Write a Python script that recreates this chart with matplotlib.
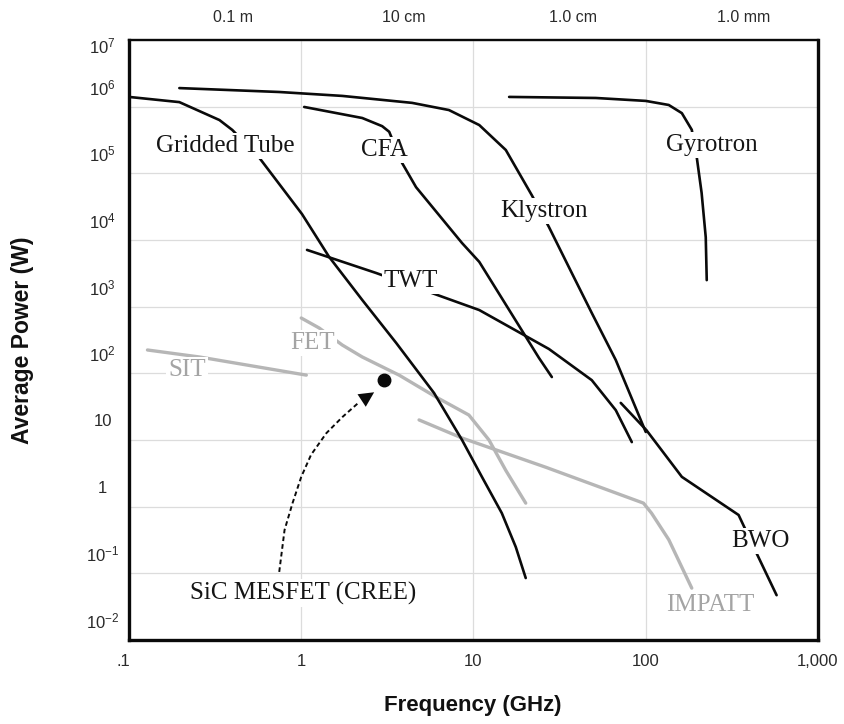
import matplotlib
matplotlib.use("Agg")
import matplotlib.pyplot as plt
import matplotlib.transforms as mtransforms

plt.rcParams['font.family'] = ['Liberation Sans', 'DejaVu Sans']
plt.rcParams['mathtext.fontset'] = 'custom'
plt.rcParams['mathtext.rm'] = 'Liberation Sans'
plt.rcParams['mathtext.it'] = 'Liberation Sans:italic'
plt.rcParams['mathtext.bf'] = 'Liberation Sans:bold'

# ---- device envelopes: frequency (GHz) vs average power (W) ----
gridded_f = [0.1, 0.196, 0.335, 0.398, 0.572, 1.01, 1.45, 2.26, 3.56, 5.9, 8.58, 11.2, 14.6, 17.6, 20.1]
gridded_p = [1.4e6, 1.17e6, 6.3e5, 4.47e5, 1.7e5, 2.45e4, 5.6e3, 1.26e3, 285, 50.7, 10, 2.79, 0.80, 0.248, 0.085]

klystron_f = [0.196, 0.745, 1.73, 4.4, 7.2, 10.8, 15.4, 21.8, 27.4, 37.2, 48.6, 67, 100]
klystron_p = [1.9e6, 1.66e6, 1.45e6, 1.14e6, 8.9e5, 5.3e5, 2.24e5, 4.7e4, 1.57e4, 3.2e3, 804, 158, 13.2]

cfa_f = [1.04, 2.26, 2.95, 3.24, 3.85, 4.64, 8.58, 10.8, 24, 28.5]
cfa_p = [9.9e5, 6.76e5, 5.1e5, 4.2e5, 1.43e5, 6.2e4, 9.0e3, 4.7e3, 170, 88]

twt_f = [1.08, 2.72, 5.74, 10.8, 27.4, 48.6, 67, 83]
twt_p = [7.1e3, 3.2e3, 1.6e3, 890, 232, 79, 28, 9.3]

gyrotron_f = [16.1, 51.3, 100, 136, 162, 185, 198, 211, 223, 226]
gyrotron_p = [1.4e6, 1.35e6, 1.22e6, 1.06e6, 8.0e5, 4.5e5, 1.7e5, 5.1e4, 1.1e4, 2.5e3]

bwo_f = [71.6, 101, 162, 346, 440, 575]
bwo_p = [36, 14, 2.8, 0.75, 0.2, 0.047]

sit_f = [0.128, 0.256, 1.07]
sit_p = [224, 176, 94]

fet_f = [1.0, 1.27, 1.73, 2.26, 3.7, 6.07, 9.4, 12.3, 15.4, 20.1]
fet_p = [676, 479, 266, 176, 94, 44, 23.7, 10, 3.5, 1.13]

impatt_f = [4.83, 8.58, 26.3, 97, 108, 136, 185]
impatt_p = [20, 10.7, 3.9, 1.13, 0.80, 0.32, 0.06]

sic_f = [0.745, 0.80, 0.89, 1.0, 1.14, 1.40, 1.73, 2.17]
sic_p = [0.105, 0.447, 1.13, 2.8, 6.0, 12.7, 22, 37]
sic_arrow_tip = (2.65, 52)
sic_point = (3.03, 80)

# curve labels: (text, freq, power)
black_labels = [("Gridded Tube", 0.363, 2.57e5), ("CFA", 3.03, 2.24e5),
                ("Klystron", 25.6, 2.7e4), ("Gyrotron", 241, 2.66e5),
                ("TWT", 4.34, 2.4e3), ("BWO", 464, 0.305),
                ("SiC MESFET (CREE)", 1.03, 0.0507)]
gray_labels = [("SIT", 0.218, 112), ("FET", 1.17, 285), ("IMPATT", 238, 0.0335)]

x_ticks = [0.1, 1, 10, 100, 1000]
x_ticklabels = [".1", "1", "10", "100", "1,000"]
y_ticks = [1e-2, 1e-1, 1, 10, 1e2, 1e3, 1e4, 1e5, 1e6, 1e7]
y_ticklabels = ["10$^{-2}$", "10$^{-1}$", "1", "10", "10$^{2}$", "10$^{3}$",
                "10$^{4}$", "10$^{5}$", "10$^{6}$", "10$^{7}$"]
wave_labels = ["0.1 m", "10 cm", "1.0 cm", "1.0 mm"]
wave_label_freq = [0.4, 3.95, 38, 370]

BLACK = "#0a0a0a"
GRAY = "#b6b6b6"
GRAY_TEXT = "#a4a4a4"

fig = plt.figure(figsize=(8.45, 7.24), dpi=100)
ax = fig.add_axes([129 / 845, 1 - 640 / 724, 689 / 845, 600 / 724])
ax.set_xscale("log")
ax.set_yscale("log")
ax.set_xlim(0.1, 1000)
ax.set_ylim(1e-2, 1e7)

ax.set_xticks(x_ticks)
ax.set_xticklabels(x_ticklabels)
ax.set_yticks(y_ticks)
ax.set_yticklabels(y_ticklabels)
ax.minorticks_off()
ax.tick_params(axis="both", length=0, labelsize=12, labelcolor="#2a2a2a")
ax.tick_params(axis="x", pad=10)
ax.tick_params(axis="y", pad=19)
for lab in ax.get_yticklabels():
    lab.set_horizontalalignment("center")
# y tick labels sit a little above their grid lines
for lab, val in zip(ax.get_yticklabels(), y_ticks):
    dy_px = -5 if val == 1e7 else 20
    lab.set_transform(lab.get_transform() + mtransforms.ScaledTranslation(0, dy_px / 100, fig.dpi_scale_trans))
first_x = ax.get_xticklabels()[0]
first_x.set_transform(first_x.get_transform() + mtransforms.ScaledTranslation(-6 / 100, 0, fig.dpi_scale_trans))

ax.grid(True, which="major", color="#dcdcdc", lw=0.9)
ax.set_axisbelow(True)
for side, sp in ax.spines.items():
    sp.set_color(BLACK)
    sp.set_linewidth(1.7 if side == "top" else 2.4)

# solid-state envelopes (gray)
for f, p in [(sit_f, sit_p), (fet_f, fet_p), (impatt_f, impatt_p)]:
    ax.plot(f, p, color=GRAY, lw=2.4, zorder=2, solid_capstyle="round", solid_joinstyle="round")

# vacuum-device envelopes (black)
for f, p in [(gridded_f, gridded_p), (klystron_f, klystron_p), (cfa_f, cfa_p),
             (twt_f, twt_p), (gyrotron_f, gyrotron_p), (bwo_f, bwo_p)]:
    ax.plot(f, p, color=BLACK, lw=1.9, zorder=3, solid_capstyle="round", solid_joinstyle="round")

# SiC MESFET progress arrow
ax.plot(sic_f, sic_p, color=BLACK, lw=1.4, ls=(0, (2.4, 1.6)), zorder=3)
ax.annotate("", xy=sic_arrow_tip, xytext=(sic_f[-1], sic_p[-1]),
            arrowprops=dict(arrowstyle="-|>", color=BLACK, lw=0, mutation_scale=27,
                            shrinkA=0, shrinkB=0), zorder=4)
ax.plot([sic_point[0]], [sic_point[1]], marker="o", ms=9, color=BLACK, zorder=4)

box = dict(facecolor="white", edgecolor="none", pad=1.5)
for txt, f, p in black_labels:
    ax.text(f, p, txt, family=["Liberation Serif", "DejaVu Serif"], fontsize=18,
            color="#151515", ha="center", va="center", zorder=6, bbox=box)
for txt, f, p in gray_labels:
    ax.text(f, p, txt, family=["Liberation Serif", "DejaVu Serif"], fontsize=18,
            color=GRAY_TEXT, ha="center", va="center", zorder=6, bbox=box)

# wavelength scale along the top
top_tr = mtransforms.blended_transform_factory(ax.transData, fig.transFigure)
for txt, f in zip(wave_labels, wave_label_freq):
    ax.text(f, 1 - 17 / 724, txt, transform=top_tr, fontsize=11.5, color="#2a2a2a",
            ha="center", va="center", clip_on=False)

ax.set_xlabel("Frequency (GHz)", fontsize=16, fontweight="bold", color="#111111")
ax.set_ylabel("Average Power (W)", fontsize=16.5, fontweight="bold", color="#111111")
ax.xaxis.set_label_coords(0.499, -0.092)
ax.yaxis.set_label_coords(-0.138, 0.5)

fig.savefig("out.png", dpi=100, facecolor="white")
